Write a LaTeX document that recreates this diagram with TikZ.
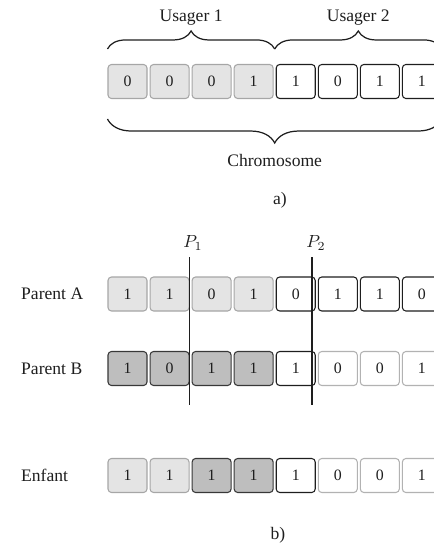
\documentclass[tikz,border=0pt]{standalone}
\usepackage{fontspec}
\setmainfont{Liberation Serif}
\usetikzlibrary{positioning,decorations.pathreplacing}
\definecolor{lightfill}{HTML}{E4E4E4}
\definecolor{lightline}{HTML}{A6A6A6}
\definecolor{darkfill}{HTML}{BEBEBE}
\definecolor{darkline}{HTML}{383838}
\definecolor{faintline}{HTML}{B2B2B2}
\definecolor{ink}{HTML}{1E1E1E}
\tikzset{
  genebox/.style={
    rectangle, rounded corners=0.7mm, draw=#1, line width=0.6pt,
    minimum width=7.8mm, minimum height=6.8mm,
    inner sep=0pt, font=\small, text=ink
  },
  genebox/.default=ink,
  lightgene/.style={genebox=lightline, fill=lightfill},
  darkgene/.style={genebox=darkline, fill=darkfill},
  plaingene/.style={genebox=ink, fill=white},
  faintgene/.style={genebox=faintline, fill=white},
  bracedeco/.style={
    decorate, decoration={brace, amplitude=#1}, line width=0.7pt, color=ink
  },
  bracedeco/.default=3.6mm,
  cutline/.style={line width=0.8pt, color=ink},
  labelnode/.style={font=\normalsize, text=ink},
}

\begin{document}
\begin{tikzpicture}[x=0.2mm, y=-0.2mm, node distance=0.4mm]
\useasboundingbox (0,0) rectangle (433,555);
% a) chromosome
\node[lightgene] (a1) at (127.5,81.5) {0};
\node[lightgene, right=of a1] (a2) {0};
\node[lightgene, right=of a2] (a3) {0};
\node[lightgene, right=of a3] (a4) {1};
\node[plaingene, right=of a4] (a5) {1};
\node[plaingene, right=of a5] (a6) {0};
\node[plaingene, right=of a6] (a7) {1};
\node[plaingene, right=of a7] (a8) {1};
\draw[bracedeco] ([yshift=3mm]a1.north west) -- ([xshift=0.2mm, yshift=3mm]a4.north east)
  node[labelnode, midway, above=3.4mm] (user1) {Usager 1};
\draw[bracedeco] ([xshift=0.2mm, yshift=3mm]a4.north east) -- ([yshift=3mm]a8.north east)
  node[labelnode, midway, above=3.4mm] (user2) {Usager 2};
\draw[bracedeco=4.8mm] ([yshift=-4mm]a8.south east) -- ([yshift=-4mm]a1.south west)
  node[labelnode, midway, below=5.8mm] (chromo) {Chromosome};
\node[labelnode] (parta) at (280,200) {a)};

% b) crossover
\node[labelnode, anchor=west] (parA) at (15,294) {Parent A};
\node[lightgene] (pa1) at (127.5,294) {1};
\node[lightgene, right=of pa1] (pa2) {1};
\node[lightgene, right=of pa2] (pa3) {0};
\node[lightgene, right=of pa3] (pa4) {1};
\node[plaingene, right=of pa4] (pa5) {0};
\node[plaingene, right=of pa5] (pa6) {1};
\node[plaingene, right=of pa6] (pa7) {1};
\node[plaingene, right=of pa7] (pa8) {0};

\node[labelnode, anchor=west] (parB) at (15,368.5) {Parent B};
\node[darkgene] (pb1) at (127.5,368.5) {1};
\node[darkgene, right=of pb1] (pb2) {0};
\node[darkgene, right=of pb2] (pb3) {1};
\node[darkgene, right=of pb3] (pb4) {1};
\node[plaingene, right=of pb4] (pb5) {1};
\node[faintgene, right=of pb5] (pb6) {0};
\node[faintgene, right=of pb6] (pb7) {0};
\node[faintgene, right=of pb7] (pb8) {1};

\node[labelnode, anchor=west] (child) at (15,475.5) {Enfant};
\node[lightgene] (en1) at (127.5,475.5) {1};
\node[lightgene, right=of en1] (en2) {1};
\node[darkgene, right=of en2] (en3) {1};
\node[darkgene, right=of en3] (en4) {1};
\node[plaingene, right=of en4] (en5) {1};
\node[faintgene, right=of en5] (en6) {0};
\node[faintgene, right=of en6] (en7) {0};
\node[faintgene, right=of en7] (en8) {1};

% cut points
\node[labelnode] (p1) at (193,243) {$P_1$};
\node[labelnode] (p2) at (316,243) {$P_2$};
\coordinate (p1top) at (189.5,257);
\coordinate (p1bot) at (189.5,405);
\coordinate (p2top) at (312,257);
\coordinate (p2bot) at (312,405);
\draw[cutline] (p1top) -- (p1bot);
\draw[cutline] (p2top) -- (p2bot);

\node[labelnode] (partb) at (278,535) {b)};
\end{tikzpicture}
\end{document}
